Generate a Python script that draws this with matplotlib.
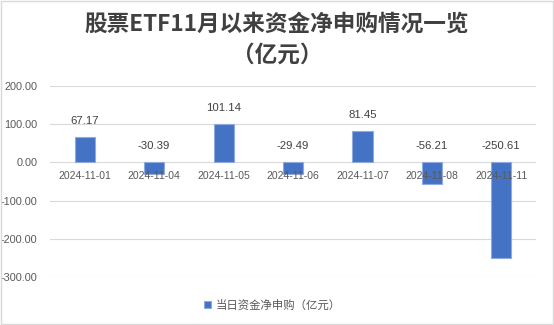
import matplotlib
matplotlib.use("Agg")
import matplotlib.pyplot as plt
from matplotlib.patches import Rectangle

plt.rcParams['font.family'] = ['Noto Sans CJK SC', 'DejaVu Sans']

dates = ['2024-11-01', '2024-11-04', '2024-11-05', '2024-11-06',
         '2024-11-07', '2024-11-08', '2024-11-11']
net_flow = [67.17, -30.39, 101.14, -29.49, 81.45, -56.21, -250.61]
y_ticks = [200, 100, 0, -100, -200, -300]

title = '股票ETF11月以来资金净申购情况一览\n（亿元）'
legend_label = '当日资金净申购（亿元）'

bar_color = '#4472C4'
text_color = '#595959'
grid_color = '#d9d9d9'

fig = plt.figure(figsize=(5.54, 3.25), dpi=100)
ax = fig.add_axes([0.0903, 0.147, 0.8772, 0.5893])

x = list(range(len(dates)))
bars = ax.bar(x, net_flow, width=0.29, color=bar_color, edgecolor='#8faadc',
              linewidth=0.8, zorder=2, label=legend_label)

ax.set_xlim(-0.5, len(dates) - 0.5)
ax.set_ylim(-300, 200)
ax.set_yticks(y_ticks)
ax.set_yticklabels([f'{v:.2f}' for v in y_ticks], fontsize=7.8,
                   color=text_color, family='Liberation Sans')
ax.tick_params(axis='y', length=0, pad=9)
ax.set_xticks([])
ax.grid(axis='y', color=grid_color, linewidth=0.8, zorder=0)
for s in ax.spines.values():
    s.set_visible(False)

# value labels sit above the bar top, or above zero for negative bars
for xi, v in zip(x, net_flow):
    ax.annotate(f'{v:.2f}', (xi, max(v, 0)), xytext=(0, 11.5),
                textcoords='offset points', ha='center', va='center',
                fontsize=8.2, color='#404040', family='Liberation Sans')
    ax.annotate(dates[xi], (xi, 0), xytext=(0, -9.5),
                textcoords='offset points', ha='center', va='center',
                fontsize=7.5, color=text_color, family='Liberation Sans',
                zorder=5)

fig.text(0.5, 0.878, title, ha='center', va='center', fontsize=16.3,
         fontweight='bold', color='#404040', linespacing=1.4)

fig.legend(handles=[bars], labels=[legend_label], loc='center',
           bbox_to_anchor=(0.492, 0.062), frameon=False, fontsize=8.2,
           handlelength=0.6, handleheight=0.6, handletextpad=0.4,
           labelcolor=text_color)

fig.add_artist(Rectangle((0.001, 0.002), 0.997, 0.995, transform=fig.transFigure,
                         fill=False, edgecolor=grid_color, linewidth=1))

fig.savefig('out.png', dpi=100)
